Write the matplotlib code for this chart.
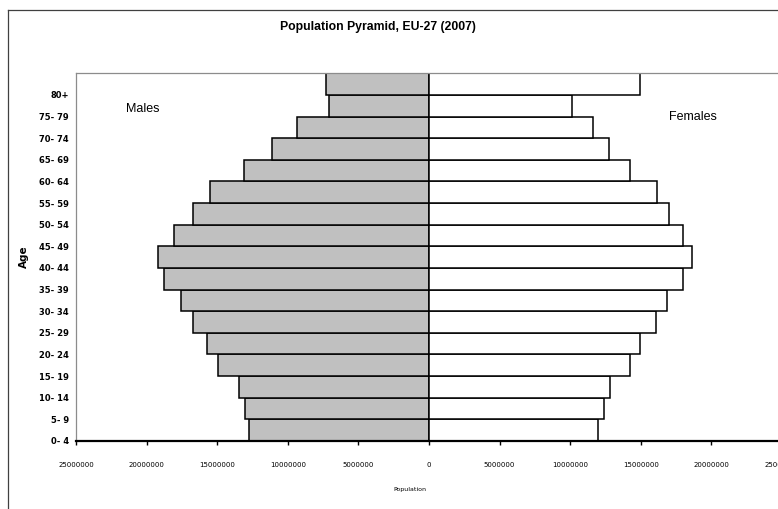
import numpy as np
import matplotlib.pyplot as plt
from matplotlib.lines import Line2D
from matplotlib.ticker import FuncFormatter

ages = ["0- 4", "5- 9", "10- 14", "15- 19", "20- 24", "25- 29", "30- 34", "35- 39",
        "40- 44", "45- 49", "50- 54", "55- 59", "60- 64", "65- 69", "70- 74", "75- 79", "80+"]
males = [12730000, 13030000, 13460000, 14970000, 15720000, 16710000, 17560000, 18750000,
         19190000, 18090000, 16710000, 15510000, 13130000, 11100000, 9350000, 7080000, 7320000]
females = [11970000, 12400000, 12840000, 14210000, 14970000, 16050000, 16830000, 18000000,
           18640000, 17980000, 17020000, 16170000, 14210000, 12750000, 11620000, 10160000, 14970000]

fig = plt.figure(figsize=(7.78, 5.09), dpi=100)
ax = fig.add_axes([76 / 778, 1 - 441 / 509, (782 - 76) / 778, (441 - 73.3) / 509])

y = np.arange(len(ages))
ax.barh(y, -np.array(males), height=1.0, color="#c0c0c0", edgecolor="black", linewidth=1.1)
ax.barh(y, females, height=1.0, color="white", edgecolor="black", linewidth=1.1)

ax.set_xlim(-25000000, 25000000)
ax.set_ylim(-0.5, len(ages) - 0.5)

# category labels sit on the lower edge of each bar
ax.set_yticks(y - 0.5)
ax.set_yticklabels(ages, fontsize=6, fontweight="bold", family="DejaVu Sans")
ax.tick_params(axis="y", length=0, pad=5)

ax.set_xticks(np.arange(-25000000, 25000001, 5000000))
ax.xaxis.set_major_formatter(FuncFormatter(lambda v, p: f"{abs(int(v))}"))
ax.tick_params(axis="x", direction="out", length=3, width=1, pad=12, labelsize=5)

for side in ("left", "top", "right"):
    ax.spines[side].set_color("#8c8c8c")
    ax.spines[side].set_linewidth(0.9)
ax.spines["bottom"].set_color("black")
ax.spines["bottom"].set_linewidth(1.6)

fig.text(377.5 / 778, 1 - 26.7 / 509, "Population Pyramid, EU-27 (2007)", ha="center", va="center",
         fontsize=8.8, fontweight="bold", family="Liberation Sans")
fig.text(143 / 778, 1 - 109 / 509, "Males", ha="center", va="center", fontsize=9, family="Liberation Sans")
fig.text(693 / 778, 1 - 117 / 509, "Females", ha="center", va="center", fontsize=9, family="Liberation Sans")
fig.text(23.5 / 778, 1 - 257 / 509, "Age", ha="center", va="center", rotation=90,
         fontsize=7.5, fontweight="bold")
fig.text(410 / 778, 1 - 490 / 509, "Population", ha="center", va="center", fontsize=4.5)

# outer chart frame (top and left edges)
fig.add_artist(Line2D([8 / 778, 1], [1 - 10 / 509, 1 - 10 / 509], transform=fig.transFigure,
                      color="#404040", linewidth=0.9))
fig.add_artist(Line2D([8 / 778, 8 / 778], [0, 1 - 10 / 509], transform=fig.transFigure,
                      color="#404040", linewidth=0.9))

fig.savefig("out.png", dpi=100)
